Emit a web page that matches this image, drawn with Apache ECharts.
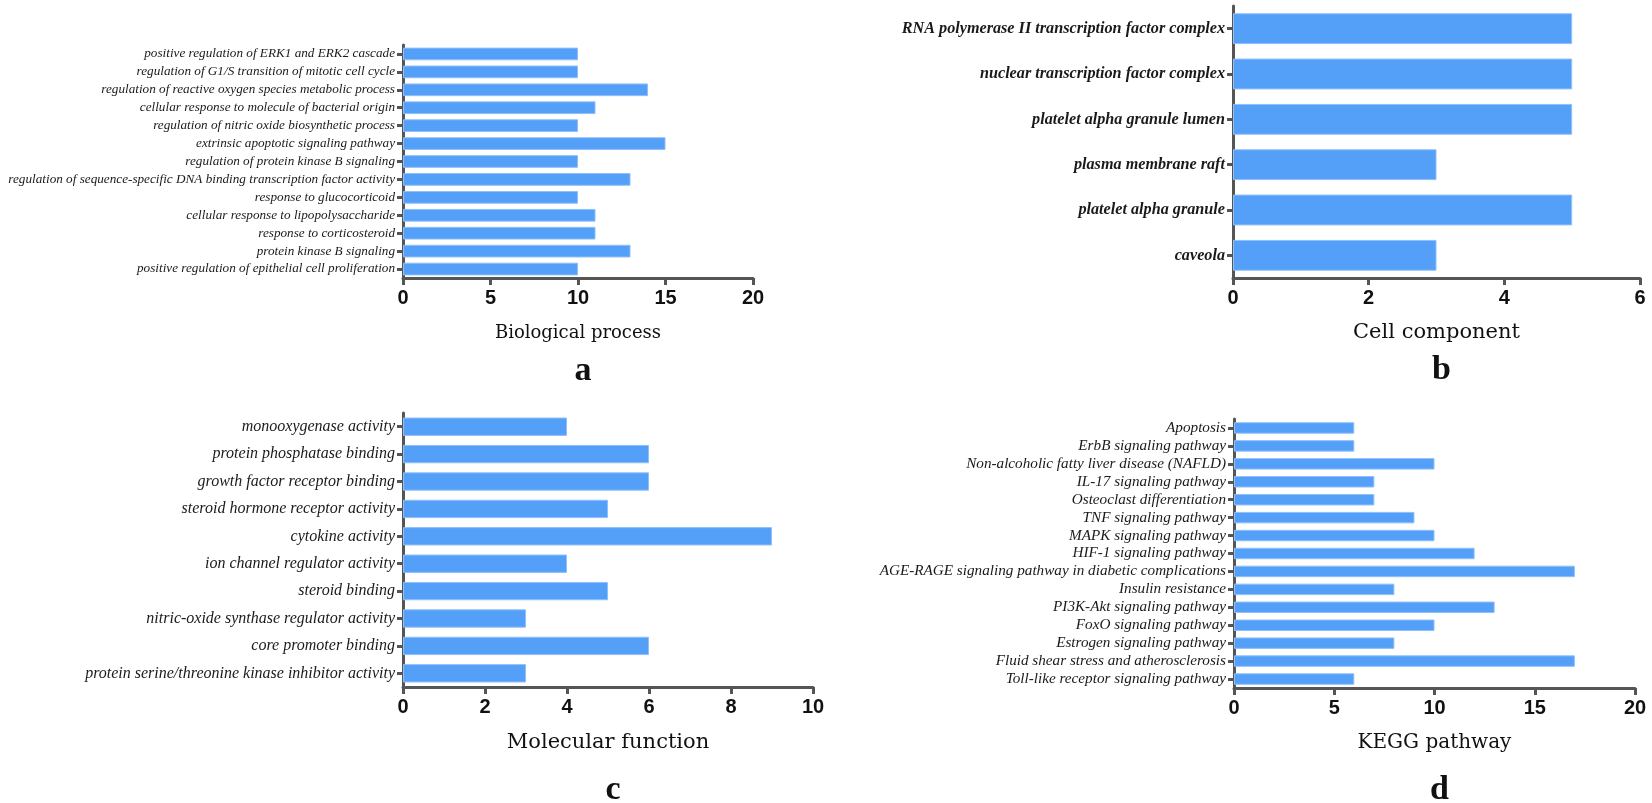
<!DOCTYPE html>
<html>
<head>
<meta charset="utf-8">
<script src="https://cdn.jsdelivr.net/npm/echarts@6/dist/echarts.min.js"></script>
<style>
  html, body { margin: 0; padding: 0; background: #fff; }
  #chart { width: 1652px; height: 803px; }
</style>
</head>
<body>
<div id="chart"></div>
<script>
// a - Biological process
const bpTerms = [
  'positive regulation of ERK1 and ERK2 cascade',
  'regulation of G1/S transition of mitotic cell cycle',
  'regulation of reactive oxygen species metabolic process',
  'cellular response to molecule of bacterial origin',
  'regulation of nitric oxide biosynthetic process',
  'extrinsic apoptotic signaling pathway',
  'regulation of protein kinase B signaling',
  'regulation of sequence-specific DNA binding transcription factor activity',
  'response to glucocorticoid',
  'cellular response to lipopolysaccharide',
  'response to corticosteroid',
  'protein kinase B signaling',
  'positive regulation of epithelial cell proliferation'
];
const bpCounts = [10, 10, 14, 11, 10, 15, 10, 13, 10, 11, 11, 13, 10];

// b - Cell component
const ccTerms = [
  'RNA polymerase II transcription factor complex',
  'nuclear transcription factor complex',
  'platelet alpha granule lumen',
  'plasma membrane raft',
  'platelet alpha granule',
  'caveola'
];
const ccCounts = [5, 5, 5, 3, 5, 3];

// c - Molecular function
const mfTerms = [
  'monooxygenase activity',
  'protein phosphatase binding',
  'growth factor receptor binding',
  'steroid hormone receptor activity',
  'cytokine activity',
  'ion channel regulator activity',
  'steroid binding',
  'nitric-oxide synthase regulator activity',
  'core promoter binding',
  'protein serine/threonine kinase inhibitor activity'
];
const mfCounts = [4, 6, 6, 5, 9, 4, 5, 3, 6, 3];

// d - KEGG pathway
const keggTerms = [
  'Apoptosis',
  'ErbB signaling pathway',
  'Non-alcoholic fatty liver disease (NAFLD)',
  'IL-17 signaling pathway',
  'Osteoclast differentiation',
  'TNF signaling pathway',
  'MAPK signaling pathway',
  'HIF-1 signaling pathway',
  'AGE-RAGE signaling pathway in diabetic complications',
  'Insulin resistance',
  'PI3K-Akt signaling pathway',
  'FoxO signaling pathway',
  'Estrogen signaling pathway',
  'Fluid shear stress and atherosclerosis',
  'Toll-like receptor signaling pathway'
];
const keggCounts = [6, 6, 10, 7, 7, 9, 10, 12, 17, 8, 13, 10, 8, 17, 6];

const axisName = ['Biological process', 'Cell component', 'Molecular function', 'KEGG pathway'];
const panelTags = ['a', 'b', 'c', 'd'];

const AXIS = '#555555';
const BAR = '#549ff7';

// grid boxes (px) for the 4 panels
const grids = [
  { left: 403, top: 45, width: 350, height: 233 },
  { left: 1233, top: 6, width: 407, height: 272 },
  { left: 403, top: 413, width: 410, height: 274 },
  { left: 1234, top: 419, width: 401, height: 269 }
];
const xMax = [20, 6, 10, 20];
const xStep = [5, 2, 2, 5];
const nameSize = [18, 21, 21, 20];
const nameGap = [46, 44, 45, 45];
const tagTop = [349, 348, 768, 768];
const labelFont = [
  { fontSize: 13.2, fontWeight: 'normal' },
  { fontSize: 16.2, fontWeight: 'bold' },
  { fontSize: 16, fontWeight: 'normal' },
  { fontSize: 15.2, fontWeight: 'normal' }
];
const gaps = ['29%', '32%', '33%', '36%'];
const terms = [bpTerms, ccTerms, mfTerms, keggTerms];
const counts = [bpCounts, ccCounts, mfCounts, keggCounts];

const chart = echarts.init(document.getElementById('chart'));

const option = {
  animation: false,
  backgroundColor: '#fff',
  title: grids.map((g, i) => ({
    text: panelTags[i],
    left: g.left + g.width / 2,
    top: tagTop[i],
    textAlign: 'center',
    textStyle: { fontFamily: 'Liberation Serif', fontWeight: 'bold', fontSize: 34, color: '#111' }
  })),
  // fixed boxes, no auto-shrink for long labels
  grid: grids.map(g => ({
    left: g.left, top: g.top, width: g.width, height: g.height,
    containLabel: false, outerBoundsMode: 'none'
  })),
  xAxis: grids.map((g, i) => ({
    type: 'value',
    gridIndex: i,
    min: 0,
    max: xMax[i],
    interval: xStep[i],
    splitLine: { show: false },
    axisLine: { show: true, lineStyle: { color: AXIS, width: 3 } },
    axisTick: { show: true, length: 7, lineStyle: { color: AXIS, width: 3 } },
    axisLabel: {
      margin: 10,
      fontFamily: 'Liberation Sans',
      fontWeight: 'bold',
      fontSize: 20,
      color: '#111'
    },
    name: axisName[i],
    nameLocation: 'middle',
    nameGap: nameGap[i],
    nameTextStyle: { fontFamily: 'DejaVu Serif', fontSize: nameSize[i], color: '#111' }
  })),
  yAxis: grids.map((g, i) => ({
    type: 'category',
    gridIndex: i,
    inverse: true,
    data: terms[i],
    axisLine: { show: true, lineStyle: { color: AXIS, width: 3 } },
    axisTick: { show: true, alignWithLabel: true, length: 6, lineStyle: { color: AXIS, width: 3 } },
    axisLabel: {
      margin: 8,
      interval: 0,
      fontFamily: 'Liberation Serif',
      fontStyle: 'italic',
      fontWeight: labelFont[i].fontWeight,
      fontSize: labelFont[i].fontSize,
      color: '#1a1a1a'
    }
  })),
  series: counts.map((c, i) => ({
    type: 'bar',
    xAxisIndex: i,
    yAxisIndex: i,
    data: c,
    barCategoryGap: gaps[i],
    itemStyle: { color: BAR, borderColor: '#8fc0fa', borderWidth: 1 }
  }))
};

chart.setOption(option);
</script>
</body>
</html>
